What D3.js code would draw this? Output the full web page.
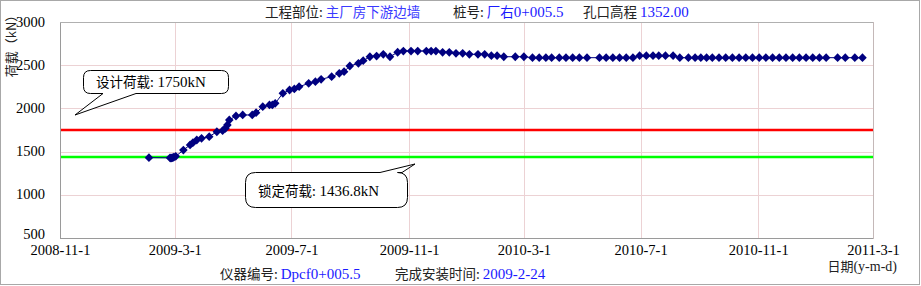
<!DOCTYPE html>
<html><head><meta charset="utf-8">
<script src="https://cdn.jsdelivr.net/npm/d3@7/dist/d3.min.js"></script>
<style>
html,body{margin:0;padding:0;background:#fff;}
svg{display:block;}
</style></head>
<body><svg id="c" width="921" height="286"></svg>
<script>
// ---- data ----
const dates = [
"2009-2-2","2009-2-24","2009-2-25","2009-2-26","2009-2-27","2009-2-28","2009-3-2",
"2009-3-10","2009-3-17","2009-3-20","2009-3-24","2009-3-29","2009-4-6","2009-4-14",
"2009-4-20","2009-4-23","2009-4-25","2009-4-27","2009-5-4","2009-5-11","2009-5-21",
"2009-5-25","2009-6-1","2009-6-8","2009-6-11","2009-6-14","2009-6-22","2009-6-29",
"2009-7-4","2009-7-9","2009-7-19","2009-7-26","2009-8-1","2009-8-12","2009-8-20",
"2009-8-25","2009-8-31","2009-9-9","2009-9-14","2009-9-21","2009-9-28","2009-10-5",
"2009-10-12","2009-10-20","2009-10-26","2009-11-3","2009-11-10","2009-11-19","2009-11-24",
"2009-11-29","2009-12-6","2009-12-13","2009-12-20","2009-12-27","2010-1-3","2010-1-12",
"2010-1-19","2010-1-26","2010-2-1","2010-2-8","2010-2-20","2010-3-1","2010-3-10",
"2010-3-17","2010-3-24","2010-3-30","2010-4-7","2010-4-14","2010-4-21","2010-4-28",
"2010-5-6","2010-5-19","2010-5-26","2010-6-2","2010-6-9","2010-6-16","2010-6-23",
"2010-6-30","2010-7-7","2010-7-14","2010-7-20","2010-7-27","2010-8-4","2010-8-11",
"2010-8-20","2010-8-27","2010-9-2","2010-9-8","2010-9-14","2010-9-21","2010-9-28",
"2010-10-5","2010-10-12","2010-10-19","2010-10-26","2010-11-2","2010-11-9","2010-11-16",
"2010-11-23","2010-11-30","2010-12-7","2010-12-14","2010-12-21","2010-12-28","2011-1-4",
"2011-1-11","2011-1-23","2011-1-31","2011-2-10","2011-2-18"];
const loads = [
1430,1428,1424,1427,1431,1435,1445,
1518,1577,1603,1634,1654,1673,1730,
1742,1770,1808,1866,1912,1924,1924,
1950,2020,2040,2040,2059,2175,2213,
2225,2251,2290,2309,2337,2367,2406,
2425,2491,2522,2552,2598,2606,2626,
2598,2650,2664,2664,2664,2664,2664,
2664,2649,2649,2637,2637,2626,2626,
2626,2610,2610,2598,2598,2598,2587,
2587,2587,2587,2587,2587,2587,2587,
2587,2587,2587,2587,2587,2587,2587,
2610,2610,2610,2610,2610,2610,2587,
2587,2587,2587,2587,2587,2587,2587,
2587,2587,2587,2587,2587,2587,2587,
2587,2587,2587,2587,2587,2587,2587,
2587,2587,2587,2587,2587];
const xTickLabels = ["2008-11-1","2009-3-1","2009-7-1","2009-11-1","2010-3-1","2010-7-1","2010-11-1","2011-3-1"];
const yTicks = [500,1000,1500,2000,2500,3000];
const designLoad = 1750;
const lockLoad = 1436.8;

// ---- drawing ----
const SERIF = "Liberation Serif, Tinos, DejaVu Serif, Noto Serif, Times, serif";
const CJK = "Noto Sans CJK SC, sans-serif";
const parse = d3.timeParse("%Y-%m-%d");
const svg = d3.select("#c");
const L = 60, R = 873, T = 22, B = 238;
const x = d3.scaleTime().domain([parse(xTickLabels[0]), parse(xTickLabels[xTickLabels.length-1])]).range([L, R]);
const y = d3.scaleLinear().domain([500, 3000]).range([B, T]);

// outer frame
svg.append("rect").attr("x",0.5).attr("y",0.5).attr("width",919).attr("height",284)
  .attr("fill","#fff").attr("stroke","#a8a8a8").attr("stroke-width",1);

// gridlines
const xt = xTickLabels.map(parse);
svg.append("g").selectAll("line").data(xt.slice(1,-1)).join("line")
  .attr("x1",d=>Math.round(x(d))+0.5).attr("x2",d=>Math.round(x(d))+0.5)
  .attr("y1",T).attr("y2",B).attr("stroke","#ecd2d4").attr("stroke-width",1);
svg.append("g").selectAll("line").data(yTicks.slice(1,-1)).join("line")
  .attr("x1",L).attr("x2",R)
  .attr("y1",d=>Math.round(y(d))+0.5).attr("y2",d=>Math.round(y(d))+0.5)
  .attr("stroke","#ecd2d4").attr("stroke-width",1);

// plot border
svg.append("rect").attr("x",L+0.5).attr("y",T+0.5).attr("width",R-L).attr("height",B-T)
  .attr("fill","none").attr("stroke","#c4b8b8");
svg.append("line").attr("x1",L+0.5).attr("x2",L+0.5).attr("y1",T).attr("y2",B+0.5).attr("stroke","#9a9a9a");
svg.append("line").attr("x1",L).attr("x2",R).attr("y1",B+0.5).attr("y2",B+0.5).attr("stroke","#9a9a9a");
svg.append("line").attr("x1",L).attr("x2",R).attr("y1",T+0.5).attr("y2",T+0.5).attr("stroke","#b0b0b0");

// axes (labels only)
const xAxis = d3.axisBottom(x).tickValues(xt).tickSize(0).tickPadding(0)
  .tickFormat(d=>`${d.getFullYear()}-${d.getMonth()+1}-${d.getDate()}`);
const gx = svg.append("g").attr("transform",`translate(0,${B})`).call(xAxis);
gx.attr("font-family",SERIF).attr("font-size",14.5);
gx.select(".domain").remove();
gx.selectAll("text").attr("dy",null).attr("y",17)
  .style("font-size","14.5px").style("font-family",SERIF).attr("fill","#000");

const yAxis = d3.axisLeft(y).tickValues(yTicks).tickSize(0).tickPadding(15).tickFormat(d3.format("d"));
const gy = svg.append("g").attr("transform",`translate(${L},0)`).call(yAxis);
gy.attr("font-family",SERIF).attr("font-size",14.5);
gy.select(".domain").remove();
gy.selectAll("text").attr("dy",d => d===500 ? "0.02em" : "0.28em")
  .style("font-size","14.5px").style("font-family",SERIF).attr("fill","#000");

// reference lines
svg.append("line").attr("x1",L+1).attr("x2",R).attr("y1",y(designLoad)).attr("y2",y(designLoad))
  .attr("stroke","#ff0000").attr("stroke-width",2.5);
svg.append("line").attr("x1",L+1).attr("x2",R).attr("y1",y(lockLoad)).attr("y2",y(lockLoad))
  .attr("stroke","#00ff00").attr("stroke-width",2.5);

// series
const pts = dates.map((d,i)=>({d:parse(d), v:loads[i]}));
svg.append("path").datum(pts)
  .attr("d", d3.line().x(p=>x(p.d)).y(p=>y(p.v)))
  .attr("fill","none").attr("stroke","#000080").attr("stroke-width",1);
const dia = "M0,-4.4L4.3,0L0,4.4L-4.3,0Z";
svg.append("g").selectAll("path").data(pts).join("path")
  .attr("d",dia).attr("transform",p=>`translate(${x(p.d)},${y(p.v)})`)
  .attr("fill","#000080");

// callouts
function callout(bx,by,bw,bh,r,tail){
  const [xa,xb,px,py,side] = tail;
  let p = "";
  if(side==="bottom"){
    p = `M${bx+r},${by} H${bx+bw-r} Q${bx+bw},${by} ${bx+bw},${by+r} V${by+bh-r} Q${bx+bw},${by+bh} ${bx+bw-r},${by+bh}`+
        ` H${xb} L${px},${py} L${xa},${by+bh} H${bx+r} Q${bx},${by+bh} ${bx},${by+bh-r} V${by+r} Q${bx},${by} ${bx+r},${by}Z`;
  } else {
    p = `M${bx+r},${by} H${xa} L${px},${py} L${xb},${by} H${bx+bw-r} Q${bx+bw},${by} ${bx+bw},${by+r} V${by+bh-r} Q${bx+bw},${by+bh} ${bx+bw-r},${by+bh}`+
        ` H${bx+r} Q${bx},${by+bh} ${bx},${by+bh-r} V${by+r} Q${bx},${by} ${bx+r},${by}Z`;
  }
  svg.append("path").attr("d",p).attr("fill","#fff").attr("stroke","#000").attr("stroke-width",1);
}
callout(83.5,70.5,145,23,7,[103,136,75,115,"bottom"]);
callout(245.5,172.5,162,35,10,[380,402,415,164,"top"]);

// parts: [text, color, isCJK]
function mixed(xp, yp, parts, anchor, cjkSize, latSize){
  const t = svg.append("text").attr("x",xp).attr("y",yp)
    .attr("text-anchor",anchor||"start");
  parts.forEach(([s,col,isC])=>{
    t.append("tspan").text(s).attr("fill",col)
      .attr("font-family", isC ? CJK : SERIF)
      .style("font-family", isC ? CJK : SERIF)
      .style("font-size", (isC ? (cjkSize||13.5) : (latSize||15)) + "px");
  });
  return t;
}
mixed(96,87,[["设计荷载:","#000",1],["  1750kN","#000",0]]);
mixed(258,196,[["锁定荷载:","#000",1],["  1436.8kN","#000",0]]);

// titles
mixed(265,17,[["工程部位: ","#222",1],["主厂房下游边墙","#3a3aff",1]]);
mixed(453,17,[["桩号: ","#222",1],["厂右","#1a1aff",1],["0+005.5","#1a1aff",0]]);
mixed(583,17,[["孔口高程 ","#222",1],["1352.00","#1a1aff",0]]);

mixed(220,279,[["仪器编号: ","#222",1],["Dpcf0+005.5","#1a1aff",0]]);
mixed(395,279,[["完成安装时间: ","#222",1],["2009-2-24","#1a1aff",0]]);
mixed(897,271,[["日期","#222",1],["(y-m-d)","#222",0]],"end",13,14);

// y axis title
svg.append("text").attr("transform","translate(16,43) rotate(-90)")
  .attr("text-anchor","middle").style("font-size","13px").style("font-family",CJK).attr("fill","#222")
  .text("荷载（kN）");
</script></body></html>
